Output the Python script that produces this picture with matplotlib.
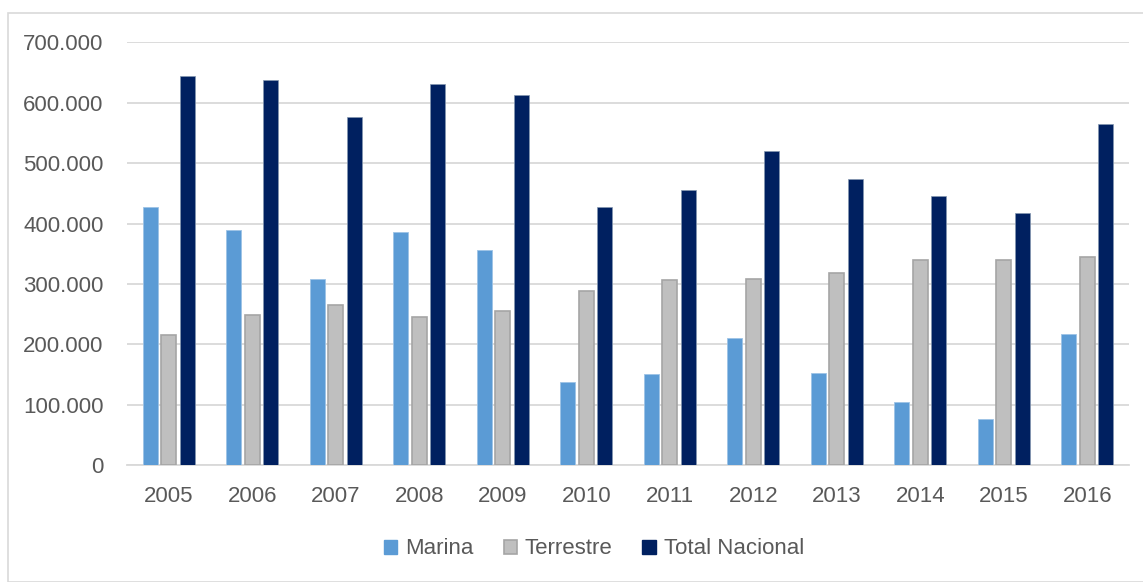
import matplotlib
matplotlib.use("Agg")
import matplotlib.pyplot as plt
import matplotlib.patches as mpatches
import numpy as np

years = ["2005", "2006", "2007", "2008", "2009", "2010", "2011", "2012", "2013", "2014", "2015", "2016"]
marina = [428000, 389000, 308000, 386000, 356000, 138000, 151000, 210000, 153000, 104000, 77000, 217000]
terrestre = [216000, 248000, 266000, 245000, 255000, 289000, 306000, 309000, 319000, 340000, 339000, 345000]
total = [645000, 637000, 576000, 631000, 612000, 427000, 456000, 520000, 473000, 445000, 417000, 564000]
series_names = ["Marina", "Terrestre", "Total Nacional"]
yticks = [0, 100000, 200000, 300000, 400000, 500000, 600000, 700000]

plt.rcParams['font.family'] = ['Liberation Sans', 'DejaVu Sans']

W, H = 1143, 582
FS = 16
fig = plt.figure(figsize=(W / 100, H / 100), dpi=100)
fig.patch.set_facecolor("white")

# outer chart border
fig.add_artist(mpatches.Rectangle((8 / W, 0), 1.2, 1 - 13 / H, transform=fig.transFigure,
                                  fill=False, edgecolor="#D9D9D9", linewidth=1.2))

ax = fig.add_axes([127 / W, 1 - 465.3 / H, (1129 - 127) / W, (465.3 - 42.3) / H])

x = np.arange(len(years))
bw = 0.18
off = 0.222
ax.bar(x - off, marina, bw, color="#5B9BD5", edgecolor="#9DC3E6", linewidth=0.6, zorder=3)
ax.bar(x, terrestre, bw, color="#BFBFBF", edgecolor="#A5A5A5", linewidth=1.2, zorder=3)
ax.bar(x + off, total, bw, color="#002060", edgecolor="#8497B0", linewidth=0.5, zorder=3)

ax.set_xlim(-0.5, len(years) - 0.5)
ax.set_ylim(0, 700000)
ax.set_yticks(yticks)
ax.set_yticklabels([f"{v:,}".replace(",", ".") for v in yticks])
ax.set_xticks(x)
ax.set_xticklabels(years)
ax.grid(axis="y", color="#D9D9D9", linewidth=1.3, zorder=0)
for s in ["top", "right", "left"]:
    ax.spines[s].set_visible(False)
ax.spines["bottom"].set_color("#D9D9D9")
ax.spines["bottom"].set_linewidth(1.3)
ax.tick_params(axis="both", length=0, labelsize=FS, colors="#595959")
ax.tick_params(axis="y", pad=17)
ax.tick_params(axis="x", pad=15)

handles = [mpatches.Patch(facecolor="#5B9BD5", edgecolor="#5B9BD5"),
           mpatches.Patch(facecolor="#BFBFBF", edgecolor="#A5A5A5", linewidth=1.2),
           mpatches.Patch(facecolor="#002060", edgecolor="#002060")]
leg = fig.legend(handles, series_names, loc="center", bbox_to_anchor=(594 / W, 1 - 549 / H),
                 ncol=3, frameon=False, fontsize=FS, handlelength=0.6, handleheight=0.6,
                 handletextpad=0.35, columnspacing=1.35, borderaxespad=0)
for t in leg.get_texts():
    t.set_color("#595959")

fig.savefig("out.png", dpi=100)
